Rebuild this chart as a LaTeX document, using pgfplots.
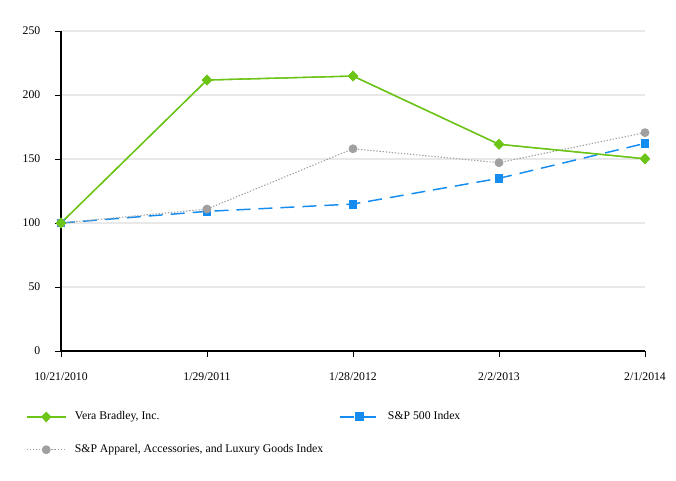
\documentclass[border=0pt]{standalone}
\usepackage{pgfplots}
\pgfplotsset{compat=1.18}
\usepackage{fontspec}
\setmainfont{Liberation Serif}
\definecolor{vgreen}{RGB}{108,196,23}
\definecolor{sblue}{RGB}{20,140,240}
\definecolor{agray}{RGB}{160,160,160}
\begin{document}
\begin{tikzpicture}
\useasboundingbox (0,0) rectangle (507pt,360pt);
\begin{axis}[
  at={(45.75pt,96.75pt)}, anchor=south west,
  scale only axis, width=438pt, height=240pt,
  xmin=0, xmax=4, ymin=0, ymax=250,
  axis lines=left, axis line style={-, line width=1pt, black},
  xtick={0,1,2,3,4},
  xticklabels={10/21/2010,1/29/2011,1/28/2012,2/2/2013,2/1/2014},
  ytick={0,50,100,150,200,250},
  tick align=outside, major tick length=4.5pt,
  tick style={black, line width=0.6pt},
  ymajorgrids, grid style={gray!18, line width=0.8pt},
  font=\fontsize{8.8}{10.5}\selectfont,
  /pgf/number format/assume math mode=true,
  xticklabel style={yshift=-8pt},
  yticklabel style={xshift=-7.5pt},
  clip=false,
  legend columns=2,
  legend cell align=left,
  legend style={draw=none, fill=none, inner sep=0pt,
    at={(-0.06,-0.181)}, anchor=north west,
    font=\fontsize{8.8}{10.5}\selectfont,
    /tikz/every odd column/.append style={column sep=4.5pt},
    /tikz/every even column/.append style={column sep=10pt},
    row sep=13pt},
  legend image code/.code={
    \draw[mark repeat=2, mark phase=2, #1] plot coordinates {(0pt,0pt) (14.5pt,0pt) (29pt,0pt)};
  },
]
\addplot[color=vgreen, line width=1pt, mark=diamond*, mark size=3.3pt, mark options={solid, fill=vgreen, xscale=1.3}]
  coordinates {(0,100) (1,211.7) (2,214.8) (3,161.5) (4,150.2)};
\addlegendentry{Vera Bradley, Inc.}
\addplot[color=sblue, line width=1.1pt, dash pattern=on 10.5pt off 6pt, mark=square*, mark size=2.8pt, mark options={solid, fill=sblue}]
  coordinates {(0,100) (1,109.1) (2,114.8) (3,134.9) (4,162.2)};
\addlegendentry{S\&P 500 Index}
\addplot[color=agray, line width=0.8pt, dash pattern=on 1pt off 1.3pt, mark=*, mark size=2.9pt, mark options={solid, fill=agray}]
  coordinates {(0,100) (1,110.9) (2,158) (3,147.1) (4,170.6)};
\addlegendentry{S\&P Apparel, Accessories, and Luxury Goods Index}
\addplot[forget plot, color=vgreen, line width=1pt, mark=diamond*, mark size=3.3pt, mark options={solid, fill=vgreen, xscale=1.3}]
  coordinates {(0,100) (1,211.7) (2,214.8) (3,161.5) (4,150.2)};
\end{axis}
\end{tikzpicture}
\end{document}
